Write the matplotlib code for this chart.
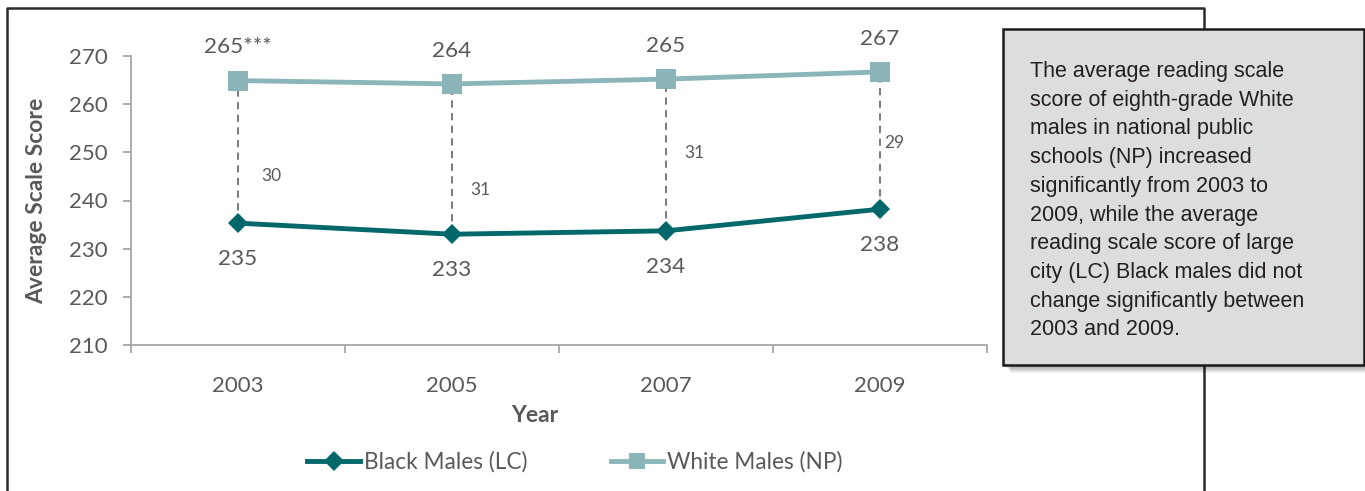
import matplotlib
matplotlib.use("Agg")
import matplotlib.pyplot as plt
from matplotlib.lines import Line2D
from matplotlib.patches import Rectangle

# ---- data ----
years = ["2003", "2005", "2007", "2009"]
black_males_lc = [235.3, 233.0, 233.7, 238.2]
white_males_np = [264.9, 264.2, 265.2, 266.7]
black_labels = ["235", "233", "234", "238"]
white_labels = ["265***", "264", "265", "267"]
gap_labels = ["30", "31", "31", "29"]
y_ticks = [210, 220, 230, 240, 250, 260, 270]
series_names = ["Black Males (LC)", "White Males (NP)"]
box_lines = [
    "The average reading scale",
    "score of eighth-grade White",
    "males in national public",
    "schools (NP) increased",
    "significantly from 2003 to",
    "2009, while the average",
    "reading scale score of large",
    "city (LC) Black males did not",
    "change significantly between",
    "2003 and 2009.",
]

# ---- style ----
W, H = 1365, 491
TEXT = "#595959"
AXC = "#a6a6a6"
DARK = "#00676b"
LIGHT = "#8cb5b9"
FONT = "Lato"

gap_label_y = [245.0, 242.2, 249.8, 251.9]
gap_label_dx = [17, 13, 13, 3]

fig = plt.figure(figsize=(W / 100, H / 100), dpi=100)
fig.patch.set_facecolor("white")

def fx(px):
    return px / W

def fy(py):
    return 1 - py / H

ax = fig.add_axes([fx(131), fy(345), fx(987) - fx(131), fy(56) - fy(345)])
ax.set_facecolor("none")
x = list(range(len(years)))

# dashed connectors
for i in x:
    ax.plot([i, i], [black_males_lc[i], white_males_np[i]], color="#707070",
            lw=1.3, ls=(0, (4, 3)), zorder=2)

ax.plot(x, white_males_np, color=LIGHT, lw=3.5, marker="s", markersize=14,
        markeredgewidth=0, zorder=3, label=series_names[1])
ax.plot(x, black_males_lc, color=DARK, lw=3.5, marker="D", markersize=10.5,
        markeredgewidth=0, zorder=4, label=series_names[0])

for i in x:
    ax.annotate(white_labels[i], (i, white_males_np[i]), xytext=(0, 24),
                textcoords="offset points", ha="center", va="center",
                fontsize=16.2, color=TEXT, family=FONT)
    ax.annotate(black_labels[i], (i, black_males_lc[i]), xytext=(0, -26),
                textcoords="offset points", ha="center", va="center",
                fontsize=16.2, color=TEXT, family=FONT)
    ax.annotate(gap_labels[i], (i, gap_label_y[i]), xytext=(gap_label_dx[i], 0),
                textcoords="offset points", ha="left", va="center",
                fontsize=12.5, color=TEXT, family=FONT)

ax.set_xlim(-0.5, len(years) - 0.5)
ax.set_ylim(210, 270)
ax.set_yticks(y_ticks)
ax.set_yticklabels([str(t) for t in y_ticks], fontsize=16, color=TEXT, family=FONT)
ax.set_xticks([i - 0.5 for i in range(len(years) + 1)])
ax.set_xticklabels([""] * (len(years) + 1))
ax.set_xticks(x, minor=True)
ax.set_xticklabels(years, minor=True, fontsize=16, color=TEXT, family=FONT)
ax.tick_params(axis="x", which="major", length=6, width=1.3, color=AXC, direction="out")
ax.tick_params(axis="x", which="minor", length=0, pad=22)
ax.tick_params(axis="y", length=6, width=1.3, color=AXC, pad=11)
for s in ["top", "right"]:
    ax.spines[s].set_visible(False)
for s in ["left", "bottom"]:
    ax.spines[s].set_color(AXC)
    ax.spines[s].set_linewidth(1.3)

ax.set_ylabel("Average Scale Score", fontsize=16.5, color=TEXT, family=FONT,
              fontweight="bold")
ax.yaxis.label.set_va("center")
ax.yaxis.set_label_coords((37 - 131) / 856, 0.5)
ax.set_xlabel("Year", fontsize=16.5, color=TEXT, family=FONT, fontweight="bold")
ax.xaxis.label.set_va("center")
ax.xaxis.set_label_coords((535 - 131) / 856, -(415 - 345) / 289)

handles = [
    Line2D([], [], color=DARK, lw=3.5, marker="D", markersize=10, markeredgewidth=0),
    Line2D([], [], color=LIGHT, lw=3.5, marker="s", markersize=12, markeredgewidth=0),
]
fig.legend(handles, series_names, loc="center", bbox_to_anchor=(fx(575), fy(462)),
           ncol=2, frameon=False, prop={"family": FONT, "size": 16.3},
           labelcolor=TEXT, handlelength=2.3, handletextpad=0.18, columnspacing=3.7,
           borderpad=0, borderaxespad=0)

# outer frame
frame = Line2D([fx(7), fx(7), fx(1204), fx(1204)], [fy(491), fy(8), fy(8), fy(491)],
               transform=fig.transFigure, color="#2b2b2b", lw=1.8, zorder=1)
fig.add_artist(frame)

# annotation box with soft shadow
bx0, by0, bx1, by1 = 1003, 29, 1364, 365
for k in range(8, 0, -1):
    sh = Rectangle((fx(bx0 + k), fy(by1 + k)), fx(bx1 - bx0), fy(by0) - fy(by1),
                   transform=fig.transFigure, facecolor="black", edgecolor="none",
                   alpha=0.05, zorder=4)
    fig.add_artist(sh)
box = Rectangle((fx(bx0), fy(by1)), fx(bx1 - bx0), fy(by0) - fy(by1),
                transform=fig.transFigure, facecolor="#dcdddf", edgecolor="#1a1a1a",
                lw=1.8, zorder=5)
fig.add_artist(box)
for j, line in enumerate(box_lines):
    t = fig.text(fx(1030), fy(77 + j * 28.7), line, fontsize=15.5, color="#231f20",
                 family="Liberation Sans", ha="left", va="baseline")
    t.set_zorder(6)

fig.savefig("out.png", dpi=100)
